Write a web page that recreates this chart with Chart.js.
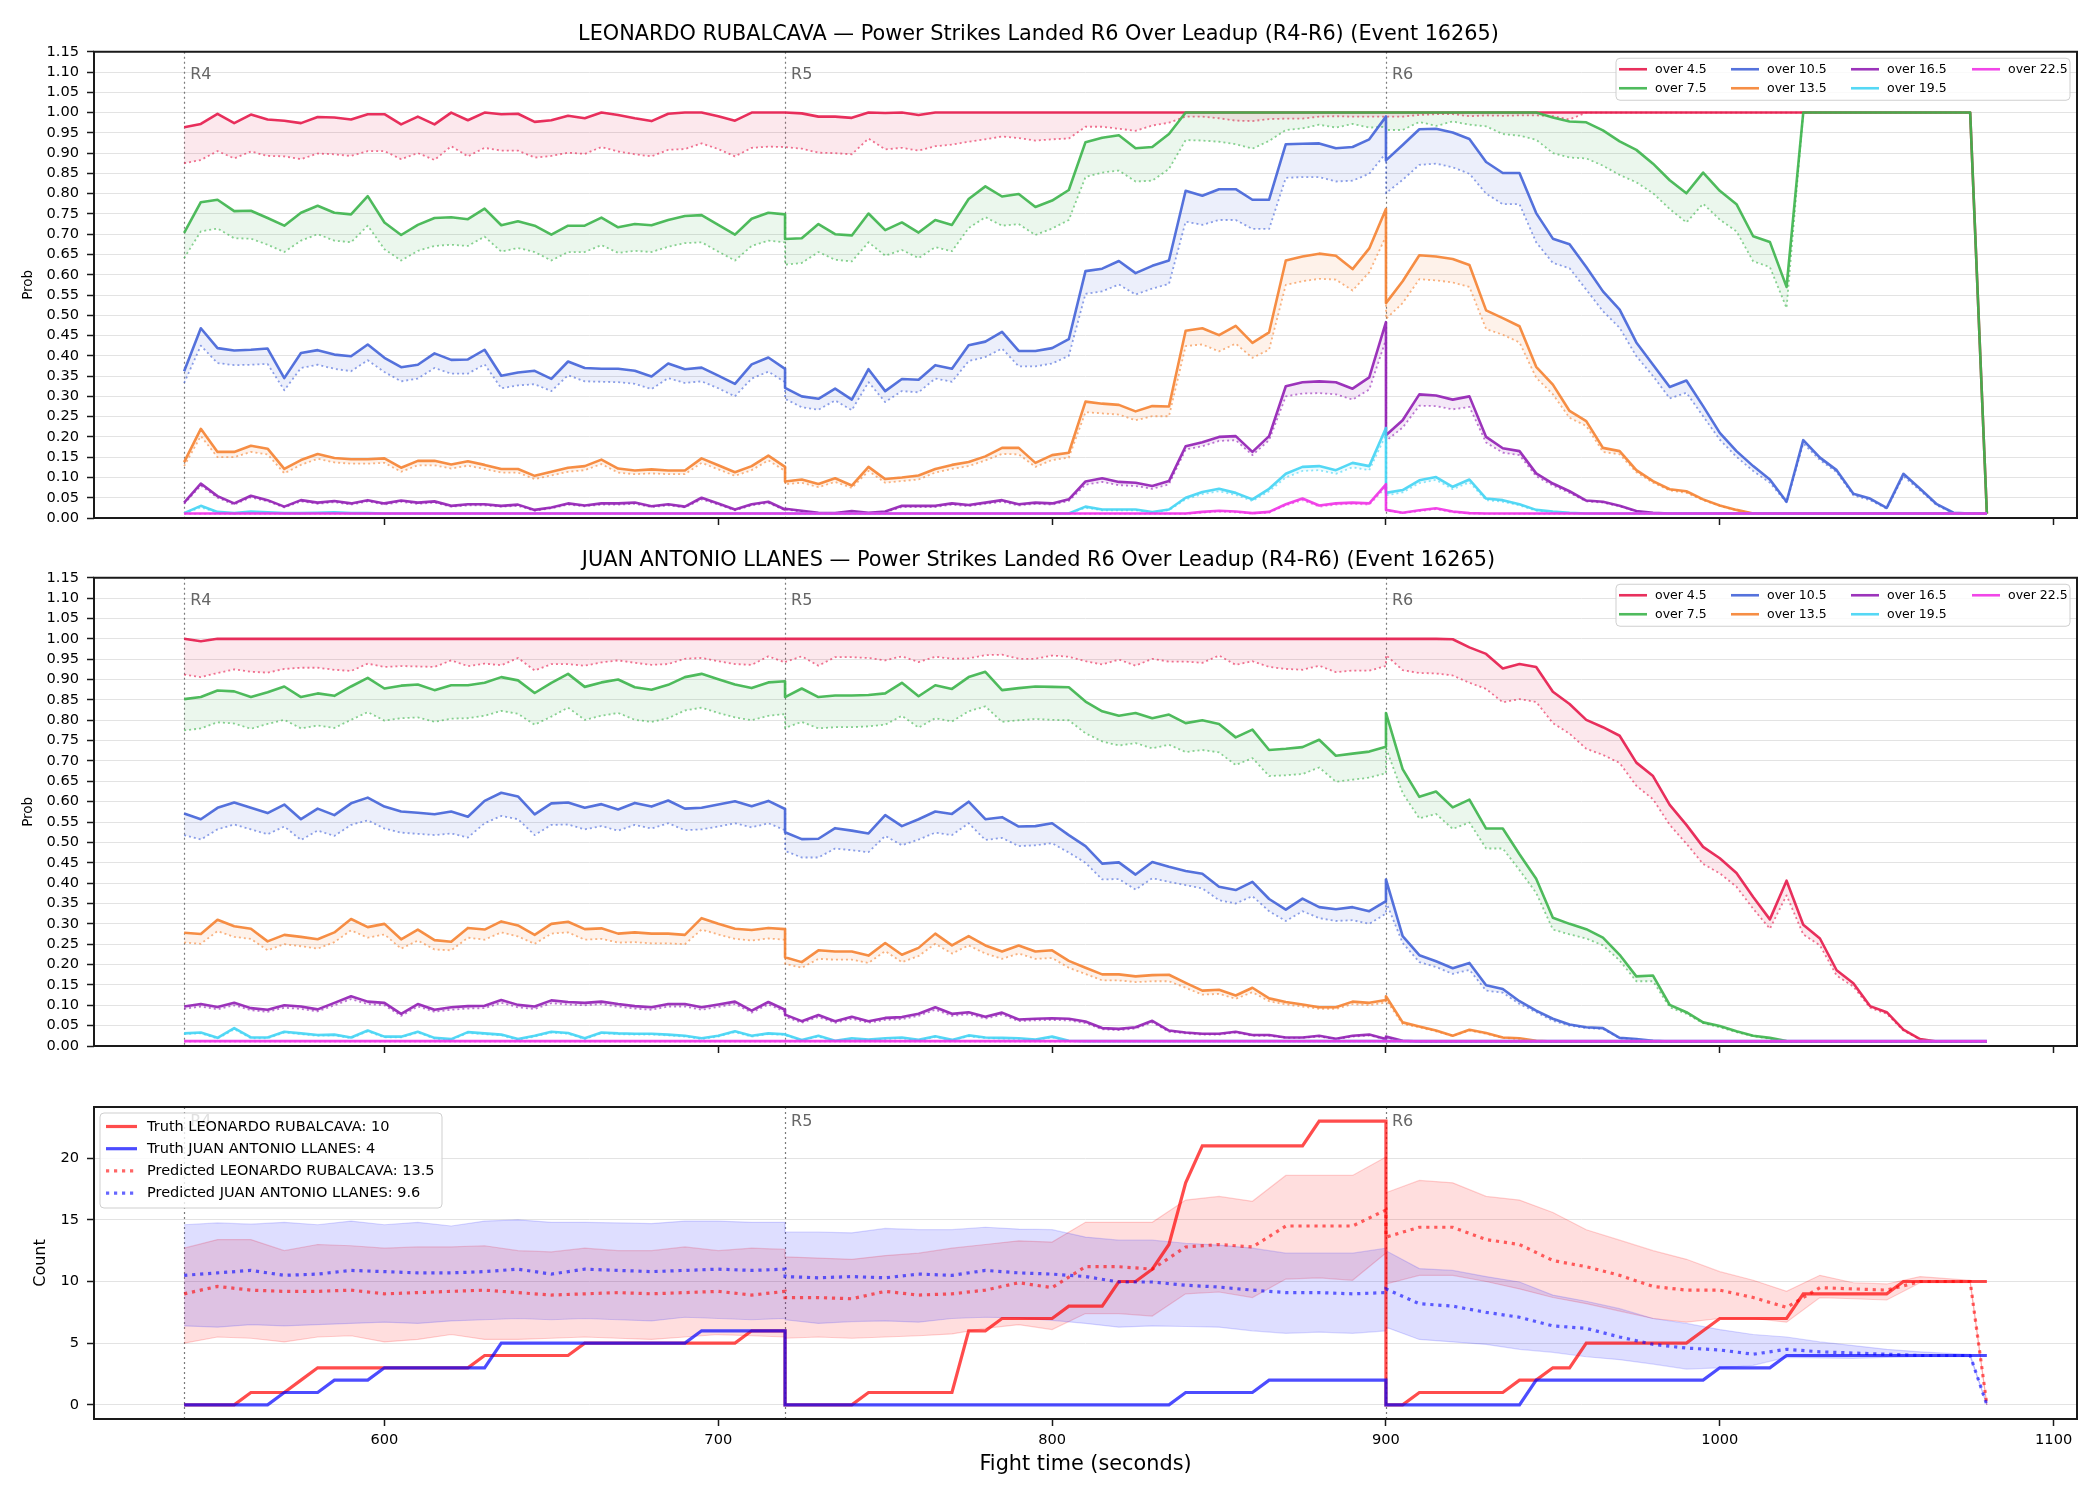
<!DOCTYPE html>
<html>
<head>
<meta charset="utf-8">
<title>Power Strikes Landed R6 Over Leadup</title>
<script src="https://cdn.jsdelivr.net/npm/chart.js@4.4.1/dist/chart.umd.min.js"></script>
<style>
  html, body { margin: 0; padding: 0; background: #fff; }
  #page { position: relative; width: 2100px; height: 1500px; overflow: hidden; background: #fff; }
  .panel { position: absolute; left: 0; width: 2100px; }
  canvas { display: block; }
</style>
</head>
<body>
<div id="page">
  <div class="panel" style="top:0px;height:560px"><canvas id="leoChart" width="2100" height="560"></canvas></div>
  <div class="panel" style="top:526px;height:562px"><canvas id="juanChart" width="2100" height="562"></canvas></div>
  <div class="panel" style="top:1097px;height:403px"><canvas id="countChart" width="2100" height="403"></canvas></div>
</div>
<script>
// ---- time axis (seconds), one row per round; round starts repeat so each round restarts ----
const times = [
  540,545,550,555,560,565,570,575,580,585,590,595,600,605,610,615,620,625,630,635,640,645,650,655,660,665,670,675,680,685,690,695,700,705,710,715,720,
  720,725,730,735,740,745,750,755,760,765,770,775,780,785,790,795,800,805,810,815,820,825,830,835,840,845,850,855,860,865,870,875,880,885,890,895,900,
  900,905,910,915,920,925,930,935,940,945,950,955,960,965,970,975,980,985,990,995,1000,1005,1010,1015,1020,1025,1030,1035,1040,1045,1050,1055,1060,1065,1070,1075,1080
];
const predTimes = [
  540,550,560,570,580,590,600,610,620,630,640,650,660,670,680,690,700,710,720,
  720,730,740,750,760,770,780,790,800,810,820,830,840,850,860,870,880,890,900,
  900,910,920,930,940,950,960,970,980,990,1000,1010,1020,1030,1040,1050,1060,1070,1075,1080
];
const roundStarts = [540, 720, 900];
const roundNames = ['R4', 'R5', 'R6'];
const timeTicks = [600, 700, 800, 900, 1000, 1100];
const probTicks = [0,0.05,0.10,0.15,0.20,0.25,0.30,0.35,0.40,0.45,0.50,0.55,0.60,0.65,0.70,0.75,0.80,0.85,0.90,0.95,1.00,1.05,1.10,1.15];
const countTicks = [0, 5, 10, 15, 20];

const thresholds = ['over 4.5', 'over 7.5', 'over 10.5', 'over 13.5', 'over 16.5', 'over 19.5', 'over 22.5'];

// ---- LEONARDO RUBALCAVA: solid = live line, d = dotted companion ----
const leo45 = [
  0.964,0.972,0.997,0.974,0.995,0.983,0.980,0.974,0.989,0.988,0.983,0.996,0.996,0.971,0.990,0.971,1.000,0.981,1.000,0.996,0.997,0.977,0.981,0.992,0.986,1.000,0.994,0.986,0.979,0.997,1.000,1.000,0.991,0.980,1.000,1.000,1.000,
  1.000,0.998,0.990,0.990,0.987,1.000,0.999,1.000,0.994,1.000,1,1,1,1,1,1,1,1,1,1,1,1,1,1,1,1,1,1,1,1,1,1,1,1,1,1,1,
  1,1,1,1,1,1,1,1,1,1,1,1,1,1,1,1,1,1,1,1,1,1,1,1,1,1,1,1,1,1,1,1,1,1,1,1,0.011
];
const leo45d = [
  0.875,0.883,0.905,0.887,0.904,0.893,0.892,0.885,0.899,0.897,0.893,0.905,0.905,0.885,0.900,0.883,0.917,0.892,0.913,0.906,0.906,0.889,0.893,0.901,0.898,0.915,0.904,0.897,0.892,0.908,0.910,0.924,0.910,0.892,0.913,0.916,0.915,
  0.915,0.911,0.901,0.900,0.897,0.936,0.909,0.913,0.906,0.917,0.921,0.928,0.934,0.941,0.937,0.931,0.934,0.936,0.965,0.965,0.960,0.955,0.968,0.975,0.990,0.990,0.986,0.980,0.979,0.984,0.985,0.985,0.990,0.991,0.990,0.990,0.990,
  0.990,0.990,0.994,0.996,0.996,0.991,0.993,0.992,0.993,0.993,0.991,0.983,1,1,1,1,1,1,1,1,1,1,1,1,1,1,1,1,1,1,1,1,1,1,1,1,0.011
];
const leo75 = [
  0.703,0.779,0.785,0.757,0.758,0.740,0.721,0.753,0.770,0.753,0.749,0.794,0.729,0.698,0.723,0.740,0.742,0.737,0.763,0.722,0.732,0.721,0.699,0.721,0.721,0.741,0.717,0.725,0.722,0.735,0.745,0.747,0.723,0.699,0.738,0.753,0.749,
  0.688,0.690,0.725,0.700,0.697,0.751,0.710,0.729,0.704,0.735,0.723,0.787,0.818,0.793,0.799,0.767,0.783,0.809,0.927,0.938,0.944,0.912,0.915,0.947,1,1,1,1,1,1,1,1,1,1,1,1,1,
  1,1,1,1,1,1,1,1,1,1,0.988,0.978,0.976,0.956,0.929,0.908,0.874,0.833,0.801,0.852,0.807,0.774,0.695,0.681,0.570,1,1,1,1,1,1,1,1,1,1,1,0.011
];
const leo75d = [
  0.641,0.707,0.714,0.690,0.689,0.674,0.656,0.684,0.700,0.684,0.680,0.721,0.663,0.635,0.659,0.671,0.674,0.671,0.694,0.657,0.666,0.656,0.635,0.656,0.656,0.673,0.654,0.659,0.656,0.669,0.678,0.680,0.657,0.635,0.671,0.684,0.680,
  0.625,0.629,0.656,0.637,0.633,0.680,0.647,0.661,0.641,0.668,0.658,0.715,0.742,0.721,0.725,0.698,0.714,0.735,0.841,0.852,0.857,0.830,0.832,0.861,0.932,0.931,0.928,0.922,0.911,0.930,0.957,0.961,0.970,0.963,0.972,0.963,0.965,
  0.957,0.957,0.977,0.967,0.978,0.970,0.966,0.947,0.943,0.933,0.900,0.889,0.887,0.869,0.846,0.828,0.801,0.762,0.729,0.775,0.736,0.707,0.633,0.619,0.518,1,1,1,1,1,1,1,1,1,1,1,0.011
];
const leo105 = [
  0.362,0.468,0.419,0.413,0.415,0.418,0.345,0.407,0.414,0.403,0.399,0.428,0.395,0.372,0.378,0.406,0.390,0.391,0.415,0.351,0.359,0.363,0.343,0.386,0.370,0.368,0.368,0.363,0.349,0.381,0.367,0.371,0.351,0.331,0.379,0.396,0.368,
  0.321,0.300,0.294,0.319,0.292,0.367,0.313,0.343,0.341,0.377,0.368,0.426,0.435,0.459,0.412,0.412,0.419,0.441,0.609,0.615,0.634,0.604,0.622,0.635,0.807,0.795,0.811,0.811,0.785,0.785,0.922,0.923,0.924,0.912,0.915,0.934,0.990,
  0.882,0.920,0.959,0.960,0.951,0.935,0.878,0.851,0.851,0.752,0.689,0.675,0.619,0.559,0.514,0.433,0.378,0.323,0.339,0.276,0.210,0.165,0.128,0.095,0.040,0.192,0.149,0.118,0.060,0.048,0.025,0.109,0.072,0.034,0.013,0.011,0.011
];
const leo105d = [
  0.333,0.425,0.382,0.377,0.378,0.380,0.315,0.370,0.378,0.368,0.362,0.389,0.360,0.337,0.344,0.370,0.356,0.356,0.379,0.320,0.327,0.330,0.313,0.352,0.337,0.336,0.335,0.331,0.318,0.345,0.333,0.337,0.320,0.300,0.344,0.361,0.335,
  0.294,0.273,0.267,0.290,0.266,0.335,0.286,0.313,0.310,0.344,0.336,0.387,0.397,0.418,0.374,0.374,0.381,0.400,0.553,0.559,0.576,0.551,0.566,0.577,0.731,0.723,0.735,0.735,0.713,0.713,0.839,0.841,0.841,0.830,0.832,0.849,0.900,
  0.801,0.834,0.871,0.874,0.865,0.849,0.800,0.774,0.774,0.680,0.629,0.616,0.563,0.510,0.469,0.399,0.350,0.295,0.309,0.251,0.193,0.151,0.116,0.087,0.038,0.184,0.143,0.113,0.056,0.044,0.023,0.103,0.068,0.031,0.012,0.011,0.011
];
const leo135 = [
  0.138,0.220,0.163,0.163,0.178,0.171,0.121,0.143,0.158,0.148,0.145,0.145,0.147,0.124,0.141,0.141,0.132,0.140,0.131,0.121,0.121,0.104,0.114,0.124,0.128,0.144,0.122,0.117,0.120,0.117,0.117,0.147,0.130,0.113,0.128,0.154,0.126,
  0.090,0.095,0.084,0.098,0.080,0.126,0.096,0.100,0.105,0.121,0.131,0.138,0.152,0.173,0.173,0.136,0.155,0.161,0.287,0.282,0.279,0.263,0.276,0.275,0.462,0.468,0.451,0.474,0.432,0.458,0.635,0.645,0.652,0.647,0.614,0.665,0.762,
  0.530,0.584,0.648,0.645,0.639,0.624,0.512,0.493,0.473,0.373,0.329,0.264,0.239,0.173,0.165,0.118,0.091,0.071,0.066,0.046,0.031,0.020,0.011,0.011,0.011,0.011,0.011,0.011,0.011,0.011,0.011,0.011,0.011,0.011,0.011,0.011,0.011
];
const leo135d = [
  0.128,0.202,0.150,0.150,0.163,0.157,0.110,0.131,0.146,0.137,0.134,0.134,0.136,0.114,0.130,0.130,0.122,0.129,0.121,0.112,0.112,0.096,0.105,0.114,0.118,0.133,0.112,0.108,0.110,0.108,0.108,0.136,0.120,0.104,0.118,0.142,0.116,
  0.083,0.087,0.076,0.089,0.074,0.116,0.087,0.091,0.095,0.112,0.121,0.128,0.142,0.158,0.157,0.126,0.143,0.149,0.261,0.258,0.255,0.241,0.251,0.251,0.424,0.428,0.411,0.430,0.395,0.415,0.575,0.584,0.590,0.588,0.561,0.606,0.695,
  0.491,0.530,0.589,0.586,0.581,0.570,0.466,0.452,0.433,0.346,0.305,0.247,0.227,0.163,0.157,0.113,0.087,0.068,0.062,0.044,0.030,0.019,0.011,0.011,0.011,0.011,0.011,0.011,0.011,0.011,0.011,0.011,0.011,0.011,0.011,0.011,0.011
];
const leo165 = [
  0.038,0.085,0.054,0.036,0.055,0.044,0.028,0.044,0.038,0.042,0.036,0.044,0.036,0.043,0.038,0.041,0.030,0.034,0.034,0.030,0.033,0.020,0.026,0.036,0.031,0.036,0.036,0.038,0.029,0.034,0.028,0.050,0.036,0.021,0.034,0.040,0.021,
  0.023,0.018,0.013,0.012,0.017,0.013,0.016,0.030,0.030,0.030,0.036,0.032,0.038,0.044,0.034,0.038,0.036,0.046,0.090,0.098,0.089,0.087,0.079,0.091,0.177,0.187,0.200,0.202,0.163,0.202,0.325,0.335,0.337,0.335,0.319,0.347,0.483,
  0.204,0.241,0.305,0.302,0.292,0.300,0.200,0.172,0.165,0.110,0.085,0.066,0.043,0.040,0.030,0.017,0.013,0.011,0.011,0.011,0.011,0.011,0.011,0.011,0.011,0.011,0.011,0.011,0.011,0.011,0.011,0.011,0.011,0.011,0.011,0.011,0.011
];
const leo165d = [
  0.035,0.080,0.050,0.033,0.051,0.041,0.026,0.041,0.035,0.039,0.033,0.041,0.033,0.040,0.035,0.038,0.028,0.031,0.031,0.028,0.030,0.018,0.024,0.033,0.029,0.033,0.033,0.035,0.027,0.031,0.026,0.046,0.033,0.019,0.031,0.037,0.019,
  0.021,0.016,0.012,0.011,0.015,0.012,0.014,0.027,0.027,0.027,0.033,0.029,0.035,0.040,0.031,0.035,0.033,0.042,0.082,0.089,0.081,0.079,0.072,0.083,0.169,0.177,0.190,0.192,0.155,0.192,0.300,0.307,0.308,0.305,0.292,0.317,0.440,
  0.190,0.223,0.277,0.276,0.268,0.274,0.186,0.161,0.155,0.103,0.080,0.062,0.041,0.038,0.029,0.016,0.012,0.011,0.011,0.011,0.011,0.011,0.011,0.011,0.011,0.011,0.011,0.011,0.011,0.011,0.011,0.011,0.011,0.011,0.011,0.011,0.011
];
const leo195 = [
  0.012,0.030,0.015,0.012,0.016,0.014,0.012,0.012,0.013,0.014,0.012,0.012,0.011,0.011,0.011,0.011,0.011,0.011,0.011,0.011,0.011,0.011,0.011,0.011,0.011,0.011,0.011,0.011,0.011,0.011,0.011,0.011,0.011,0.011,0.011,0.011,0.011,
  0.011,0.011,0.011,0.011,0.011,0.011,0.011,0.011,0.011,0.011,0.011,0.011,0.011,0.011,0.011,0.011,0.011,0.011,0.028,0.021,0.021,0.021,0.015,0.021,0.050,0.064,0.072,0.062,0.046,0.072,0.109,0.126,0.128,0.118,0.136,0.128,0.222,
  0.062,0.069,0.093,0.101,0.077,0.095,0.048,0.044,0.034,0.020,0.016,0.013,0.011,0.011,0.011,0.011,0.011,0.011,0.011,0.011,0.011,0.011,0.011,0.011,0.011,0.011,0.011,0.011,0.011,0.011,0.011,0.011,0.011,0.011,0.011,0.011,0.011
];
const leo195d = [
  0.011,0.026,0.013,0.011,0.014,0.013,0.011,0.011,0.012,0.013,0.011,0.011,0.011,0.011,0.011,0.011,0.011,0.011,0.011,0.011,0.011,0.011,0.011,0.011,0.011,0.011,0.011,0.011,0.011,0.011,0.011,0.011,0.011,0.011,0.011,0.011,0.011,
  0.011,0.011,0.011,0.011,0.011,0.011,0.011,0.011,0.011,0.011,0.011,0.011,0.011,0.011,0.011,0.011,0.011,0.011,0.025,0.019,0.019,0.019,0.014,0.019,0.046,0.059,0.066,0.057,0.042,0.066,0.100,0.116,0.118,0.109,0.125,0.118,0.205,
  0.056,0.063,0.086,0.094,0.071,0.088,0.044,0.040,0.031,0.018,0.014,0.012,0.011,0.011,0.011,0.011,0.011,0.011,0.011,0.011,0.011,0.011,0.011,0.011,0.011,0.011,0.011,0.011,0.011,0.011,0.011,0.011,0.011,0.011,0.011,0.011,0.011
];
const leo225 = [
  0.011,0.011,0.011,0.011,0.011,0.011,0.011,0.011,0.011,0.011,0.011,0.011,0.011,0.011,0.011,0.011,0.011,0.011,0.011,0.011,0.011,0.011,0.011,0.011,0.011,0.011,0.011,0.011,0.011,0.011,0.011,0.011,0.011,0.011,0.011,0.011,0.011,
  0.011,0.011,0.011,0.011,0.011,0.011,0.011,0.011,0.011,0.011,0.011,0.011,0.011,0.011,0.011,0.011,0.011,0.011,0.011,0.011,0.011,0.011,0.011,0.011,0.011,0.015,0.018,0.016,0.012,0.015,0.034,0.048,0.031,0.036,0.038,0.036,0.083,
  0.020,0.013,0.019,0.024,0.016,0.012,0.011,0.011,0.011,0.011,0.011,0.011,0.011,0.011,0.011,0.011,0.011,0.011,0.011,0.011,0.011,0.011,0.011,0.011,0.011,0.011,0.011,0.011,0.011,0.011,0.011,0.011,0.011,0.011,0.011,0.011,0.011
];
const leo225d = [
  0.010,0.010,0.010,0.010,0.010,0.010,0.010,0.010,0.010,0.010,0.010,0.010,0.010,0.010,0.010,0.010,0.010,0.010,0.010,0.010,0.010,0.010,0.010,0.010,0.010,0.010,0.010,0.010,0.010,0.010,0.010,0.010,0.010,0.010,0.010,0.010,0.010,
  0.010,0.010,0.010,0.010,0.010,0.010,0.010,0.010,0.010,0.010,0.010,0.010,0.010,0.010,0.010,0.010,0.010,0.010,0.010,0.010,0.010,0.010,0.010,0.010,0.010,0.013,0.016,0.014,0.011,0.013,0.031,0.044,0.028,0.033,0.035,0.033,0.076,
  0.018,0.012,0.017,0.022,0.014,0.011,0.010,0.010,0.010,0.010,0.010,0.010,0.010,0.010,0.010,0.010,0.010,0.010,0.010,0.010,0.010,0.010,0.010,0.010,0.010,0.010,0.010,0.010,0.010,0.010,0.010,0.010,0.010,0.010,0.010,0.010,0.010
];

// ---- JUAN ANTONIO LLANES ----
const juan45 = [
  1.000,0.994,1,1,1,1,1,1,1,1,1,1,1,1,1,1,1,1,1,1,1,1,1,1,1,1,1,1,1,1,1,1,1,1,1,1,1,
  1,1,1,1,1,1,1,1,1,1,1,1,1,1,1,1,1,1,1,1,1,1,1,1,1,1,1,1,1,1,1,1,1,1,1,1,1,
  1,1,1,1,0.999,0.979,0.963,0.927,0.938,0.931,0.870,0.840,0.801,0.783,0.762,0.696,0.663,0.592,0.543,0.489,0.461,0.425,0.366,0.311,0.406,0.298,0.264,0.186,0.154,0.098,0.083,0.040,0.017,0.011,0.011,0.011,0.011
];
const juan45d = [
  0.912,0.906,0.916,0.925,0.919,0.917,0.926,0.929,0.929,0.924,0.921,0.939,0.931,0.933,0.932,0.931,0.947,0.933,0.939,0.935,0.953,0.922,0.938,0.938,0.934,0.942,0.947,0.941,0.936,0.938,0.951,0.953,0.945,0.938,0.936,0.957,0.942,
  0.943,0.957,0.934,0.955,0.955,0.953,0.947,0.957,0.943,0.956,0.951,0.952,0.960,0.961,0.951,0.951,0.959,0.956,0.945,0.937,0.949,0.934,0.951,0.944,0.944,0.941,0.959,0.936,0.945,0.931,0.926,0.924,0.934,0.918,0.922,0.922,0.933,
  0.960,0.923,0.916,0.915,0.910,0.892,0.877,0.844,0.852,0.845,0.793,0.767,0.730,0.715,0.695,0.639,0.606,0.543,0.497,0.447,0.424,0.391,0.337,0.288,0.370,0.274,0.247,0.173,0.146,0.094,0.079,0.038,0.016,0.011,0.011,0.011,0.011
];
const juan75 = [
  0.852,0.857,0.873,0.871,0.857,0.869,0.883,0.857,0.866,0.860,0.883,0.904,0.878,0.885,0.888,0.874,0.886,0.886,0.892,0.906,0.898,0.867,0.892,0.914,0.882,0.893,0.900,0.881,0.875,0.887,0.906,0.914,0.901,0.888,0.879,0.893,0.896,
  0.857,0.878,0.857,0.861,0.861,0.862,0.866,0.892,0.859,0.886,0.877,0.906,0.919,0.874,0.879,0.883,0.882,0.881,0.846,0.822,0.811,0.818,0.805,0.814,0.793,0.800,0.791,0.758,0.777,0.727,0.730,0.734,0.752,0.713,0.718,0.723,0.735,
  0.818,0.680,0.612,0.625,0.586,0.605,0.534,0.534,0.471,0.411,0.315,0.300,0.287,0.266,0.224,0.171,0.173,0.101,0.083,0.058,0.049,0.036,0.025,0.020,0.012,0.011,0.011,0.011,0.011,0.011,0.011,0.011,0.011,0.011,0.011,0.011,0.011
];
const juan75d = [
  0.775,0.780,0.795,0.792,0.779,0.791,0.801,0.780,0.787,0.781,0.801,0.820,0.799,0.805,0.807,0.796,0.804,0.805,0.811,0.823,0.816,0.789,0.809,0.831,0.801,0.811,0.818,0.801,0.796,0.805,0.824,0.831,0.818,0.807,0.800,0.811,0.815,
  0.781,0.796,0.780,0.783,0.783,0.785,0.789,0.811,0.782,0.805,0.797,0.822,0.834,0.796,0.800,0.803,0.801,0.800,0.768,0.748,0.738,0.744,0.731,0.740,0.722,0.727,0.721,0.690,0.707,0.663,0.665,0.668,0.684,0.649,0.654,0.659,0.670,
  0.732,0.621,0.559,0.570,0.533,0.549,0.485,0.485,0.432,0.376,0.286,0.274,0.264,0.247,0.210,0.159,0.159,0.095,0.079,0.056,0.046,0.034,0.024,0.018,0.011,0.011,0.011,0.011,0.011,0.011,0.011,0.011,0.011,0.011,0.011,0.011,0.011
];
const juan105 = [
  0.571,0.557,0.585,0.598,0.585,0.572,0.593,0.557,0.583,0.567,0.596,0.610,0.588,0.576,0.573,0.569,0.576,0.563,0.602,0.622,0.613,0.569,0.596,0.598,0.585,0.594,0.581,0.597,0.588,0.603,0.583,0.585,0.593,0.601,0.589,0.602,0.582,
  0.525,0.508,0.509,0.535,0.529,0.522,0.567,0.540,0.557,0.576,0.570,0.600,0.557,0.562,0.539,0.540,0.547,0.518,0.491,0.448,0.451,0.421,0.452,0.440,0.430,0.423,0.391,0.383,0.403,0.361,0.335,0.362,0.341,0.336,0.341,0.331,0.356,
  0.409,0.270,0.223,0.208,0.191,0.204,0.149,0.140,0.110,0.087,0.067,0.053,0.046,0.044,0.020,0.017,0.013,0.011,0.011,0.011,0.011,0.011,0.011,0.011,0.011,0.011,0.011,0.011,0.011,0.011,0.011,0.011,0.011,0.011,0.011,0.011,0.011
];
const juan105d = [
  0.518,0.507,0.532,0.544,0.532,0.520,0.539,0.506,0.529,0.516,0.543,0.554,0.534,0.524,0.521,0.518,0.522,0.512,0.547,0.565,0.557,0.518,0.543,0.544,0.532,0.540,0.529,0.543,0.534,0.547,0.530,0.532,0.539,0.547,0.537,0.547,0.530,
  0.479,0.463,0.463,0.485,0.481,0.476,0.516,0.493,0.507,0.524,0.518,0.547,0.506,0.511,0.491,0.493,0.498,0.475,0.450,0.409,0.410,0.384,0.412,0.403,0.395,0.387,0.358,0.350,0.368,0.331,0.307,0.331,0.314,0.307,0.309,0.300,0.325,
  0.354,0.253,0.206,0.194,0.177,0.187,0.136,0.131,0.103,0.083,0.062,0.050,0.044,0.042,0.019,0.016,0.012,0.011,0.011,0.011,0.011,0.011,0.011,0.011,0.011,0.011,0.011,0.011,0.011,0.011,0.011,0.011,0.011,0.011,0.011,0.011,0.011
];
const juan135 = [
  0.278,0.275,0.310,0.294,0.288,0.257,0.273,0.268,0.262,0.279,0.312,0.292,0.300,0.262,0.286,0.260,0.256,0.290,0.286,0.306,0.296,0.273,0.300,0.305,0.287,0.289,0.276,0.279,0.276,0.276,0.273,0.314,0.300,0.288,0.285,0.290,0.287,
  0.218,0.206,0.235,0.232,0.232,0.222,0.253,0.224,0.241,0.276,0.247,0.270,0.247,0.232,0.247,0.232,0.235,0.209,0.192,0.176,0.176,0.171,0.174,0.175,0.155,0.136,0.138,0.124,0.143,0.117,0.108,0.102,0.095,0.095,0.109,0.106,0.113,
  0.122,0.058,0.048,0.038,0.025,0.040,0.032,0.021,0.019,0.013,0.011,0.011,0.011,0.011,0.011,0.011,0.011,0.011,0.011,0.011,0.011,0.011,0.011,0.011,0.011,0.011,0.011,0.011,0.011,0.011,0.011,0.011,0.011,0.011,0.011,0.011,0.011
];
const juan135d = [
  0.254,0.251,0.282,0.268,0.263,0.235,0.250,0.245,0.239,0.255,0.284,0.266,0.274,0.239,0.259,0.237,0.235,0.266,0.261,0.279,0.269,0.251,0.276,0.279,0.261,0.263,0.254,0.255,0.252,0.252,0.250,0.286,0.274,0.263,0.259,0.264,0.261,
  0.202,0.192,0.214,0.212,0.212,0.204,0.233,0.206,0.221,0.251,0.227,0.247,0.227,0.214,0.227,0.214,0.216,0.192,0.177,0.161,0.161,0.157,0.159,0.159,0.143,0.126,0.128,0.116,0.132,0.110,0.102,0.097,0.091,0.091,0.103,0.100,0.107,
  0.113,0.054,0.046,0.036,0.025,0.038,0.030,0.020,0.017,0.012,0.011,0.011,0.011,0.011,0.011,0.011,0.011,0.011,0.011,0.011,0.011,0.011,0.011,0.011,0.011,0.011,0.011,0.011,0.011,0.011,0.011,0.011,0.011,0.011,0.011,0.011,0.011
];
const juan165 = [
  0.097,0.103,0.096,0.106,0.093,0.089,0.100,0.097,0.090,0.106,0.122,0.109,0.106,0.079,0.103,0.089,0.095,0.098,0.099,0.113,0.101,0.097,0.112,0.108,0.106,0.109,0.103,0.098,0.095,0.103,0.103,0.095,0.102,0.109,0.087,0.108,0.089,
  0.077,0.061,0.076,0.061,0.072,0.061,0.069,0.071,0.079,0.095,0.079,0.083,0.072,0.082,0.065,0.067,0.068,0.067,0.060,0.044,0.042,0.046,0.062,0.038,0.033,0.030,0.030,0.035,0.027,0.027,0.021,0.021,0.025,0.018,0.025,0.028,0.017,
  0.023,0.013,0.011,0.011,0.011,0.011,0.011,0.011,0.011,0.011,0.011,0.011,0.011,0.011,0.011,0.011,0.011,0.011,0.011,0.011,0.011,0.011,0.011,0.011,0.011,0.011,0.011,0.011,0.011,0.011,0.011,0.011,0.011,0.011,0.011,0.011,0.011
];
const juan165d = [
  0.091,0.097,0.090,0.100,0.088,0.084,0.094,0.091,0.085,0.100,0.115,0.103,0.100,0.074,0.097,0.084,0.089,0.092,0.093,0.106,0.095,0.091,0.105,0.102,0.100,0.103,0.097,0.092,0.089,0.097,0.097,0.089,0.096,0.103,0.082,0.102,0.084,
  0.072,0.057,0.071,0.057,0.067,0.057,0.064,0.066,0.074,0.089,0.074,0.078,0.067,0.077,0.061,0.063,0.064,0.063,0.056,0.041,0.039,0.043,0.058,0.035,0.031,0.028,0.028,0.033,0.025,0.025,0.020,0.020,0.023,0.017,0.023,0.026,0.016,
  0.021,0.012,0.011,0.011,0.011,0.011,0.011,0.011,0.011,0.011,0.011,0.011,0.011,0.011,0.011,0.011,0.011,0.011,0.011,0.011,0.011,0.011,0.011,0.011,0.011,0.011,0.011,0.011,0.011,0.011,0.011,0.011,0.011,0.011,0.011,0.011,0.011
];
const juan195 = [
  0.031,0.033,0.020,0.044,0.021,0.021,0.035,0.031,0.027,0.028,0.021,0.038,0.023,0.023,0.035,0.020,0.017,0.034,0.031,0.028,0.017,0.025,0.035,0.032,0.019,0.033,0.031,0.030,0.030,0.028,0.025,0.019,0.025,0.036,0.025,0.031,0.029,
  0.028,0.015,0.025,0.013,0.019,0.016,0.019,0.021,0.015,0.024,0.015,0.026,0.021,0.020,0.019,0.016,0.023,0.013,0.012,0.012,0.012,0.012,0.012,0.012,0.012,0.012,0.012,0.012,0.012,0.012,0.012,0.012,0.012,0.012,0.012,0.012,0.012,
  0.012,0.012,0.012,0.012,0.012,0.012,0.012,0.012,0.012,0.012,0.012,0.012,0.012,0.012,0.012,0.012,0.012,0.012,0.012,0.012,0.012,0.012,0.012,0.012,0.012,0.012,0.012,0.012,0.012,0.012,0.012,0.012,0.012,0.012,0.012,0.012,0.012
];
const juan195d = [
  0.029,0.031,0.018,0.041,0.019,0.019,0.033,0.029,0.025,0.026,0.019,0.036,0.021,0.021,0.033,0.018,0.015,0.032,0.029,0.026,0.015,0.023,0.033,0.030,0.017,0.031,0.029,0.028,0.028,0.026,0.023,0.017,0.023,0.034,0.023,0.029,0.027,
  0.026,0.014,0.023,0.012,0.017,0.015,0.017,0.019,0.014,0.022,0.014,0.024,0.019,0.018,0.017,0.015,0.021,0.012,0.011,0.011,0.011,0.011,0.011,0.011,0.011,0.011,0.011,0.011,0.011,0.011,0.011,0.011,0.011,0.011,0.011,0.011,0.011,
  0.011,0.011,0.011,0.011,0.011,0.011,0.011,0.011,0.011,0.011,0.011,0.011,0.011,0.011,0.011,0.011,0.011,0.011,0.011,0.011,0.011,0.011,0.011,0.011,0.011,0.011,0.011,0.011,0.011,0.011,0.011,0.011,0.011,0.011,0.011,0.011,0.011
];
const juan225 = [
  0.012,0.012,0.012,0.012,0.012,0.012,0.012,0.012,0.012,0.012,0.012,0.012,0.012,0.012,0.012,0.012,0.012,0.012,0.012,0.012,0.012,0.012,0.012,0.012,0.012,0.012,0.012,0.012,0.012,0.012,0.012,0.012,0.012,0.012,0.012,0.012,0.012,
  0.012,0.012,0.012,0.012,0.012,0.012,0.012,0.012,0.012,0.012,0.012,0.012,0.012,0.012,0.012,0.012,0.012,0.012,0.012,0.012,0.012,0.012,0.012,0.012,0.012,0.012,0.012,0.012,0.012,0.012,0.012,0.012,0.012,0.012,0.012,0.012,0.012,
  0.012,0.012,0.012,0.012,0.012,0.012,0.012,0.012,0.012,0.012,0.012,0.012,0.012,0.012,0.012,0.012,0.012,0.012,0.012,0.012,0.012,0.012,0.012,0.012,0.012,0.012,0.012,0.012,0.012,0.012,0.012,0.012,0.012,0.012,0.012,0.012,0.012
];
const juan225d = [
  0.011,0.011,0.011,0.011,0.011,0.011,0.011,0.011,0.011,0.011,0.011,0.011,0.011,0.011,0.011,0.011,0.011,0.011,0.011,0.011,0.011,0.011,0.011,0.011,0.011,0.011,0.011,0.011,0.011,0.011,0.011,0.011,0.011,0.011,0.011,0.011,0.011,
  0.011,0.011,0.011,0.011,0.011,0.011,0.011,0.011,0.011,0.011,0.011,0.011,0.011,0.011,0.011,0.011,0.011,0.011,0.011,0.011,0.011,0.011,0.011,0.011,0.011,0.011,0.011,0.011,0.011,0.011,0.011,0.011,0.011,0.011,0.011,0.011,0.011,
  0.011,0.011,0.011,0.011,0.011,0.011,0.011,0.011,0.011,0.011,0.011,0.011,0.011,0.011,0.011,0.011,0.011,0.011,0.011,0.011,0.011,0.011,0.011,0.011,0.011,0.011,0.011,0.011,0.011,0.011,0.011,0.011,0.011,0.011,0.011,0.011,0.011
];

// ---- count panel: truth per round (at times), predicted mean and band (at predTimes) ----
const leoTruth = [
  0,0,0,0,1,1,1,2,3,3,3,3,3,3,3,3,3,3,4,4,4,4,4,4,5,5,5,5,5,5,5,5,5,5,6,6,6,
  0,0,0,0,0,1,1,1,1,1,1,6,6,7,7,7,7,8,8,8,10,10,11,13,18,21,21,21,21,21,21,21,23,23,23,23,23,
  0,0,1,1,1,1,1,1,2,2,3,3,5,5,5,5,5,5,5,6,7,7,7,7,7,9,9,9,9,9,9,10,10,10,10,10,10
];
const juanTruth = [
  0,0,0,0,0,0,1,1,1,2,2,2,3,3,3,3,3,3,3,5,5,5,5,5,5,5,5,5,5,5,5,6,6,6,6,6,6,
  0,0,0,0,0,0,0,0,0,0,0,0,0,0,0,0,0,0,0,0,0,0,0,0,1,1,1,1,1,2,2,2,2,2,2,2,2,
  0,0,0,0,0,0,0,0,0,2,2,2,2,2,2,2,2,2,2,2,3,3,3,3,4,4,4,4,4,4,4,4,4,4,4,4,4
];
const leoPred = [
  9.0,9.6,9.3,9.2,9.2,9.3,9.0,9.1,9.2,9.3,9.1,8.9,9.0,9.1,9.0,9.1,9.2,8.9,9.2,
  8.7,8.7,8.6,9.2,8.9,9.0,9.3,9.9,9.5,11.2,11.2,11.0,12.8,13.0,12.8,14.5,14.5,14.5,15.8,
  13.6,14.4,14.4,13.4,13.0,11.7,11.2,10.5,9.6,9.3,9.3,8.7,7.9,9.5,9.4,9.3,10.0,10.0,10.0,0
];
const juanPred = [
  10.5,10.7,10.9,10.5,10.6,10.9,10.8,10.7,10.7,10.8,11.0,10.6,11.0,10.9,10.8,10.9,11.0,10.9,11.0,
  10.4,10.3,10.4,10.3,10.6,10.5,10.9,10.7,10.6,10.4,9.96,9.96,9.7,9.55,9.3,9.1,9.1,9.0,9.1,
  9.4,8.2,8.0,7.5,7.1,6.4,6.2,5.5,4.9,4.6,4.45,4.1,4.5,4.3,4.2,4.1,4.0,4.0,4.0,0
];
const leoUpper = [
  12.7,13.4,13.4,12.5,13.0,12.9,12.7,12.8,12.8,12.9,12.5,12.4,12.7,12.5,12.5,12.8,12.5,12.7,12.6,
  12.0,11.9,11.8,12.1,12.3,12.7,13.0,13.3,13.2,14.8,14.8,14.8,16.6,16.9,16.5,18.6,18.6,18.6,20.1,
  17.2,18.2,18.0,16.9,16.6,15.6,14.2,13.35,12.5,11.8,10.8,10.1,9.2,10.5,9.9,9.8,10.4,10.2,10.1,0
];
const leoLower = [
  5.0,5.5,5.4,5.1,5.5,5.6,5.1,5.3,5.7,5.3,5.3,5.4,5.5,5.4,5.3,5.5,5.7,5.6,5.5,
  5.4,5.5,5.4,5.5,5.6,5.75,6.2,6.5,6.1,7.4,7.4,7.2,9.0,9.15,8.7,10.2,10.3,10.1,12.3,
  9.8,10.5,10.5,10.0,9.4,8.7,8.2,7.6,7.0,6.7,7.0,7.0,6.7,8.7,8.6,8.5,9.9,9.9,9.9,0
];
const juanUpper = [
  14.6,14.75,14.65,14.8,14.6,14.9,14.6,14.8,14.5,14.9,15.0,14.8,14.8,14.75,14.7,14.9,14.9,14.8,14.8,
  14.0,14.0,13.95,14.3,14.2,14.2,14.4,14.25,14.2,13.6,13.35,13.35,13.1,12.95,12.7,12.3,12.3,12.3,12.7,
  12.5,11.05,10.9,10.4,9.96,8.9,8.4,7.8,7.0,6.6,6.1,5.7,5.5,5.1,4.8,4.5,4.3,4.15,4.1,0
];
const juanLower = [
  6.4,6.3,6.5,6.4,6.5,6.6,6.7,6.6,6.8,6.9,7.0,6.9,7.0,6.9,6.8,7.1,7.0,6.9,7.0,
  6.9,6.6,6.75,6.8,6.7,7.0,7.1,7.05,6.85,6.6,6.3,6.4,6.35,6.3,6.0,5.8,5.9,5.8,6.0,
  6.3,5.3,5.1,4.9,4.5,4.26,3.9,3.66,3.3,2.9,3.0,3.2,3.85,3.8,3.77,3.85,3.9,3.9,3.9,0
];

// ---------------------------------------------------------------------------
const FONT = "'DejaVu Sans', 'Liberation Sans', sans-serif";
Chart.defaults.font.family = FONT;
Chart.defaults.color = '#000';

const palette = ['#e6194b', '#3cb44b', '#4363d8', '#f58231', '#911eb4', '#42d4f4', '#f032e6'];

function rgba(hex, a) {
  const n = parseInt(hex.slice(1), 16);
  return `rgba(${(n >> 16) & 255},${(n >> 8) & 255},${n & 255},${a})`;
}

function points(xs, ys) {
  return xs.map((x, i) => ({ x, y: ys[i] }));
}

function roundedRect(ctx, x, y, w, h, r) {
  ctx.beginPath();
  ctx.moveTo(x + r, y);
  ctx.lineTo(x + w - r, y);
  ctx.arcTo(x + w, y, x + w, y + r, r);
  ctx.lineTo(x + w, y + h - r);
  ctx.arcTo(x + w, y + h, x + w - r, y + h, r);
  ctx.lineTo(x + r, y + h);
  ctx.arcTo(x, y + h, x, y + h - r, r);
  ctx.lineTo(x, y + r);
  ctx.arcTo(x, y, x + r, y, r);
  ctx.closePath();
}

// matplotlib-like legend drawn inside the axes
function drawLegend(ctx, legend) {
  ctx.save();
  roundedRect(ctx, legend.x, legend.y, legend.w, legend.h, 4);
  ctx.fillStyle = 'rgba(255,255,255,0.8)';
  ctx.fill();
  ctx.strokeStyle = '#cfcfcf';
  ctx.lineWidth = 1;
  ctx.stroke();
  ctx.font = `${legend.fontSize}px ${FONT}`;
  ctx.textBaseline = 'middle';
  ctx.textAlign = 'left';
  for (const item of legend.items) {
    ctx.beginPath();
    ctx.setLineDash(item.dash || []);
    ctx.strokeStyle = item.color;
    ctx.lineWidth = item.width;
    ctx.moveTo(item.hx, item.y);
    ctx.lineTo(item.hx + legend.handle, item.y);
    ctx.stroke();
    ctx.setLineDash([]);
    ctx.fillStyle = '#000';
    ctx.fillText(item.label, item.hx + legend.handle + legend.gap, item.y + 0.5);
  }
  ctx.restore();
}

// round separators, round labels, axes frame and legend
function decorations(buildLegend) {
  return {
    id: 'decorations',
    beforeDatasetsDraw(chart) {
      const { ctx, chartArea, scales } = chart;
      ctx.save();
      ctx.strokeStyle = 'rgba(100,100,100,0.85)';
      ctx.lineWidth = 1.2;
      ctx.setLineDash([2, 3]);
      for (const t of roundStarts) {
        const px = Math.round(scales.x.getPixelForValue(t)) + 0.5;
        ctx.beginPath();
        ctx.moveTo(px, chartArea.top);
        ctx.lineTo(px, chartArea.bottom);
        ctx.stroke();
      }
      ctx.restore();
    },
    afterDatasetsDraw(chart) {
      const { ctx, chartArea, scales } = chart;
      ctx.save();
      ctx.font = `16px ${FONT}`;
      ctx.fillStyle = '#666';
      ctx.textBaseline = 'middle';
      const ly = scales.y.getPixelForValue(scales.y.max * 0.95);
      roundStarts.forEach((t, i) => {
        ctx.fillText(roundNames[i], scales.x.getPixelForValue(t) + 6, ly);
      });
      ctx.strokeStyle = '#1a1a1a';
      ctx.lineWidth = 2;
      ctx.strokeRect(chartArea.left, chartArea.top, chartArea.right - chartArea.left, chartArea.bottom - chartArea.top);
      ctx.restore();
    },
    afterDraw(chart) {
      drawLegend(chart.ctx, buildLegend(chart.chartArea));
    }
  };
}

// fixed-size y axis whose label overflow does not push the plot area
function fixedYAxis(s) {
  s.width = 94;
  s.paddingTop = 0;
  s.paddingBottom = 0;
}

function xScale(showLabels, height) {
  return {
    type: 'linear',
    min: 513,
    max: 1107,
    afterBuildTicks: (s) => { s.ticks = timeTicks.map(v => ({ value: v })); },
    afterFit: (s) => { s.height = height; },
    grid: { display: true, drawOnChartArea: false, drawTicks: true, tickLength: 7, tickColor: '#1a1a1a', tickWidth: 1.5 },
    border: { display: false },
    ticks: { display: showLabels, font: { size: 14.6 }, color: '#000', padding: 5, maxRotation: 0, autoSkip: false, callback: (v) => String(v) },
    title: showLabels
      ? { display: true, text: 'Fight time (seconds)', font: { size: 20.8 }, color: '#000', padding: { top: 0, bottom: 22.5 } }
      : { display: false }
  };
}

function probChart(canvasId, title, solids, dotted) {
  const datasets = [];
  solids.forEach((arr, k) => {
    datasets.push({
      label: thresholds[k],
      data: points(times, arr),
      borderColor: rgba(palette[k], 0.9),
      borderWidth: 2.6,
      pointRadius: 0,
      fill: false,
      order: 40 - 2 * k
    });
    datasets.push({
      label: thresholds[k] + ' (dotted)',
      data: points(times, dotted[k]),
      borderColor: rgba(palette[k], 0.6),
      borderWidth: 1.8,
      borderDash: [2, 3],
      pointRadius: 0,
      fill: { target: 2 * k },
      backgroundColor: rgba(palette[k], 0.1),
      order: 41 - 2 * k
    });
  });

  const colX = [-458, -346, -226, -105];
  const legendFor = (area) => ({
    x: area.right - 461, y: area.top + 6.5, w: 454, h: 42,
    fontSize: 12.5, handle: 28, gap: 8,
    items: thresholds.map((label, k) => ({
      label,
      color: rgba(palette[k], 0.9),
      width: 2.6,
      hx: area.right + colX[Math.floor(k / 2)],
      y: area.top + (k % 2 === 0 ? 17.5 : 36.5)
    }))
  });

  return new Chart(document.getElementById(canvasId), {
    type: 'line',
    data: { datasets },
    plugins: [decorations(legendFor)],
    options: {
      responsive: false,
      animation: false,
      devicePixelRatio: 1,
      events: [],
      layout: { padding: { left: 0, right: 23, top: 0, bottom: 0 } },
      elements: { line: { tension: 0, borderCapStyle: 'butt', borderJoinStyle: 'round' }, point: { radius: 0 } },
      plugins: {
        legend: { display: false },
        tooltip: { enabled: false },
        title: { display: true, text: title, font: { size: 20.8, weight: 'normal' }, color: '#000', padding: { top: 22, bottom: 4.8 } }
      },
      scales: {
        x: xScale(false, 42),
        y: {
          type: 'linear',
          min: 0,
          max: 1.15,
          afterBuildTicks: (s) => { s.ticks = probTicks.map(v => ({ value: v })); },
          afterFit: fixedYAxis,
          grid: { color: '#e3e3e3', lineWidth: 1, drawTicks: true, tickLength: 7, tickColor: '#1a1a1a', tickWidth: 1.5 },
          border: { display: false },
          ticks: { font: { size: 14.6 }, color: '#000', padding: 8, autoSkip: false, callback: (v) => Number(v).toFixed(2) },
          title: { display: true, text: 'Prob', font: { size: 13.5 }, color: '#000', padding: { top: 20.5, bottom: 0 } }
        }
      }
    }
  });
}

probChart('leoChart', 'LEONARDO RUBALCAVA — Power Strikes Landed R6 Over Leadup (R4-R6) (Event 16265)',
  [leo45, leo75, leo105, leo135, leo165, leo195, leo225],
  [leo45d, leo75d, leo105d, leo135d, leo165d, leo195d, leo225d]);

probChart('juanChart', 'JUAN ANTONIO LLANES — Power Strikes Landed R6 Over Leadup (R4-R6) (Event 16265)',
  [juan45, juan75, juan105, juan135, juan165, juan195, juan225],
  [juan45d, juan75d, juan105d, juan135d, juan165d, juan195d, juan225d]);

// ---- count panel ----
const RED = 'rgba(255,0,0,0.7)';
const BLUE = 'rgba(0,0,255,0.7)';
const countLegendItems = [
  { label: 'Truth LEONARDO RUBALCAVA: 10', color: RED, dash: [] },
  { label: 'Truth JUAN ANTONIO LLANES: 4', color: BLUE, dash: [] },
  { label: 'Predicted LEONARDO RUBALCAVA: 13.5', color: 'rgba(255,0,0,0.6)', dash: [3.2, 4.8] },
  { label: 'Predicted JUAN ANTONIO LLANES: 9.6', color: 'rgba(0,0,255,0.6)', dash: [3.2, 4.8] }
];
const countLegend = (area) => ({
  x: area.left + 6, y: area.top + 6, w: 342, h: 95,
  fontSize: 14.5, handle: 31, gap: 10,
  items: countLegendItems.map((it, i) => ({
    label: it.label, color: it.color, dash: it.dash, width: 3.2,
    hx: area.left + 12, y: area.top + 19.5 + i * 22.2
  }))
});

new Chart(document.getElementById('countChart'), {
  type: 'line',
  data: {
    datasets: [
      { label: 'leo upper', data: points(predTimes, leoUpper), borderColor: 'rgba(255,0,0,0.18)', borderWidth: 1.2, fill: { target: 1 }, backgroundColor: 'rgba(255,0,0,0.13)', order: 9 },
      { label: 'leo lower', data: points(predTimes, leoLower), borderColor: 'rgba(255,0,0,0.18)', borderWidth: 1.2, fill: false, order: 8 },
      { label: 'juan upper', data: points(predTimes, juanUpper), borderColor: 'rgba(0,0,255,0.15)', borderWidth: 1.2, fill: { target: 3 }, backgroundColor: 'rgba(0,0,255,0.13)', order: 7 },
      { label: 'juan lower', data: points(predTimes, juanLower), borderColor: 'rgba(0,0,255,0.15)', borderWidth: 1.2, fill: false, order: 6 },
      { label: 'Truth LEONARDO RUBALCAVA', data: points(times, leoTruth), borderColor: RED, borderWidth: 3.2, fill: false, order: 5 },
      { label: 'Truth JUAN ANTONIO LLANES', data: points(times, juanTruth), borderColor: BLUE, borderWidth: 3.2, fill: false, order: 4 },
      { label: 'Predicted LEONARDO RUBALCAVA', data: points(predTimes, leoPred), borderColor: 'rgba(255,0,0,0.6)', borderWidth: 3.2, borderDash: [3.2, 4.8], fill: false, order: 3 },
      { label: 'Predicted JUAN ANTONIO LLANES', data: points(predTimes, juanPred), borderColor: 'rgba(0,0,255,0.6)', borderWidth: 3.2, borderDash: [3.2, 4.8], fill: false, order: 2 }
    ]
  },
  plugins: [decorations(countLegend)],
  options: {
    responsive: false,
    animation: false,
    devicePixelRatio: 1,
    events: [],
    layout: { padding: { left: 0, right: 23, top: 10, bottom: 0 } },
    elements: { line: { tension: 0, borderCapStyle: 'butt', borderJoinStyle: 'miter' }, point: { radius: 0 } },
    plugins: { legend: { display: false }, tooltip: { enabled: false }, title: { display: false } },
    scales: {
      x: xScale(true, 81),
      y: {
        type: 'linear',
        min: -1.15,
        max: 24.15,
        afterBuildTicks: (s) => { s.ticks = countTicks.map(v => ({ value: v })); },
        afterFit: fixedYAxis,
        grid: { color: '#e3e3e3', lineWidth: 1, drawTicks: true, tickLength: 7, tickColor: '#1a1a1a', tickWidth: 1.5 },
        border: { display: false },
        ticks: { font: { size: 14.6 }, color: '#000', padding: 8, autoSkip: false, callback: (v) => String(v) },
        title: { display: true, text: 'Count', font: { size: 16 }, color: '#000', padding: { top: 31.4, bottom: 0 } }
      }
    }
  }
});
</script>
</body>
</html>
